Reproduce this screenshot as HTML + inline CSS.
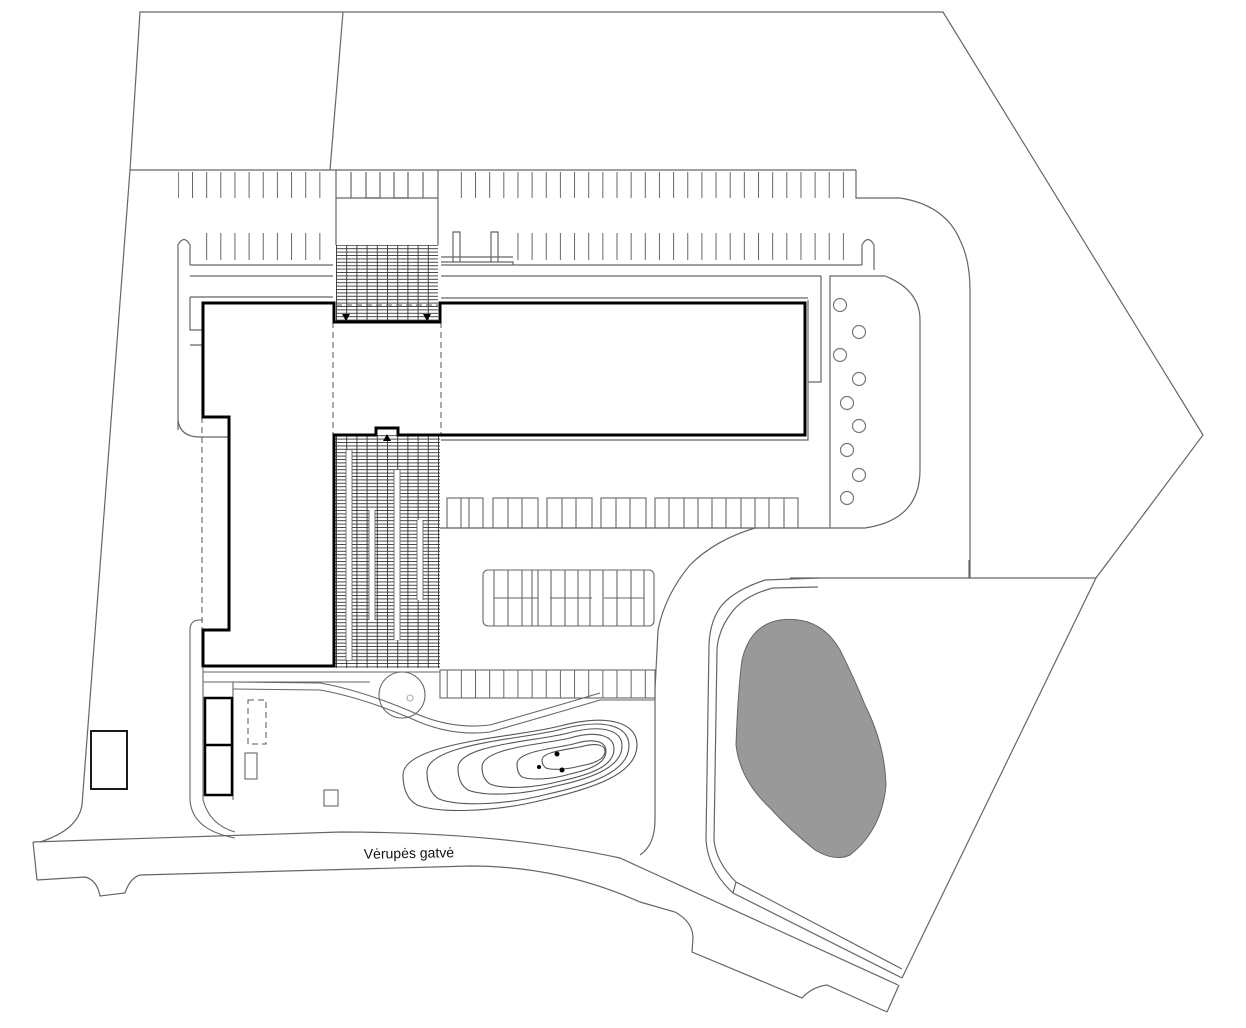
<!DOCTYPE html>
<html><head><meta charset="utf-8"><style>
html,body{margin:0;padding:0;background:#fff;}
svg{display:block}
text{font-family:"Liberation Sans",sans-serif;}
</style></head><body>
<svg width="1246" height="1028" viewBox="0 0 1246 1028" xmlns="http://www.w3.org/2000/svg">
<defs>
<pattern id="stallA" x="192" y="0" width="14.15" height="1028" patternUnits="userSpaceOnUse"><line x1="0.5" y1="0" x2="0.5" y2="1028" stroke="#666" stroke-width="1"/></pattern>
<pattern id="pave" x="336" y="0" width="10.2" height="3.4" patternUnits="userSpaceOnUse"><rect width="10.2" height="3.4" fill="#fff"/><line x1="0" y1="0.5" x2="10.2" y2="0.5" stroke="#333" stroke-width="0.9"/><line x1="0.5" y1="0" x2="0.5" y2="3.4" stroke="#333" stroke-width="0.9"/></pattern>
</defs>
<g fill="none" stroke="#666" stroke-width="1.2">
<polyline points="130,170 140,12 943,12 1203,435 1096,578 902,978"/>
<line x1="343" y1="12" x2="330" y2="170"/>
<line x1="130" y1="170" x2="856" y2="170"/>
<path d="M130,170 L82,805 Q78,830 40,842"/>
<!-- road -->
<path d="M33,842 L340,832 Q500,832 620,858 L898,985"/>
<path d="M37,880 L85,877 Q97,880 100,896 L125,893 Q130,878 140,875 L470,866 Q560,866 640,902 L675,912 Q693,922 693,938 L692,952 L802,998 Q812,987 827,985 L887,1012"/>
<line x1="33" y1="842" x2="37" y2="880"/>
<line x1="887" y1="1012" x2="899" y2="985"/>
<!-- pond parcel -->
<line x1="790" y1="578" x2="1096" y2="578"/>
<line x1="969" y1="578" x2="969" y2="560"/>
<path d="M818,578 L765,580 Q735,590 722,605 Q710,620 709,645 L706,840 Q708,870 733,893 L902,978"/>
<path d="M818,587 L773,588 Q745,595 732,612 Q718,630 717,650 L714,840 Q716,862 736,882 L902,969"/>
<path d="M733,893 L736,882"/>
<!-- right road -->
<path d="M856,170 L856,198 L900,198 Q945,205 960,240 Q970,260 970,290 L970,578"/>
<path d="M755,528 Q715,540 690,565 Q665,595 658,630 L655,690 L655,820 Q655,845 640,855"/>
<path d="M830,276 L885,276 Q920,290 920,320 L920,470 Q920,520 865,528 L830,528 Z"/>
<line x1="438" y1="528" x2="830" y2="528"/>
<rect x="178" y="172" width="155" height="26" fill="url(#stallA)" stroke="none"/>
<rect x="450" y="172" width="400" height="26" fill="url(#stallA)" stroke="none"/>
<rect x="200" y="233" width="133" height="27" fill="url(#stallA)" stroke="none"/>
<rect x="506" y="233" width="338" height="27" fill="url(#stallA)" stroke="none"/>
<line x1="190" y1="265" x2="333" y2="265"/>
<line x1="441" y1="265" x2="862" y2="265"/>
<line x1="190" y1="276" x2="333" y2="276"/>
<line x1="441" y1="276" x2="821" y2="276"/>
<line x1="190" y1="297" x2="333" y2="297"/>
<line x1="441" y1="298" x2="808" y2="298"/>
<path d="M821,276 L821,382 L808,382"/>
<path d="M808,300 L808,440 L441,440"/>
<path d="M178,430 L178,245 Q184,234 190,245 L190,265"/>
<path d="M862,265 L862,245 Q868,234 874,245 L874,270"/>
<path d="M178,420 Q180,437 200,437 L229,437"/>
<path d="M190,297 L190,330 L202,330"/>
<path d="M190,345 L202,345 L202,415"/>
<line x1="336" y1="170" x2="336" y2="245"/>
<line x1="438" y1="170" x2="438" y2="245"/>
<line x1="336" y1="198" x2="438" y2="198"/>
<polyline points="351,172 351,198"/><polyline points="366,172 366,198 380,198 380,172"/><polyline points="394,172 394,198 408,198 408,172"/><polyline points="423,172 423,198"/>
<path d="M453,262 L453,232 L460,232 L460,262 M491,262 L491,232 L498,232 L498,262 M441,257 L513,257 M441,262 L513,262 L513,265"/>
</g>
<rect x="336" y="245" width="102" height="77" fill="url(#pave)"/>
<rect x="334" y="435" width="106" height="233" fill="url(#pave)"/>
<g stroke="#fff" stroke-width="6">
<line x1="349" y1="450" x2="349" y2="660"/><line x1="372" y1="510" x2="372" y2="620"/><line x1="397" y1="470" x2="397" y2="640"/><line x1="420" y1="520" x2="420" y2="600"/>
</g>
<g stroke="#555" stroke-width="0.8"><line x1="346" y1="450" x2="346" y2="660"/><line x1="352" y1="450" x2="352" y2="660"/><line x1="369" y1="510" x2="369" y2="620"/><line x1="375" y1="510" x2="375" y2="620"/><line x1="394" y1="470" x2="394" y2="640"/><line x1="400" y1="470" x2="400" y2="640"/><line x1="417" y1="520" x2="417" y2="600"/><line x1="423" y1="520" x2="423" y2="600"/></g>
<g fill="none" stroke="#555" stroke-width="1" stroke-dasharray="6,4">
<line x1="333" y1="322" x2="333" y2="435"/><line x1="441" y1="322" x2="441" y2="435"/>
<line x1="336" y1="305" x2="438" y2="305"/>
<line x1="202" y1="417" x2="202" y2="630"/>
<rect x="248" y="700" width="18" height="44"/>
</g>
<path d="M203,303 L334,303 L334,322 L440,322 L440,303 L805,303 L805,435 L398,435 L398,428 L376,428 L376,435 L334,435 L334,666 L203,666 L203,630 L229,630 L229,417 L203,417 Z" fill="none" stroke="#000" stroke-width="3"/>
<polygon points="342,314 350,314 346,321" fill="#000"/><polygon points="423,314 431,314 427,321" fill="#000"/><polygon points="383,441 391,441 387,434" fill="#000"/>
<g fill="#fff" stroke="#777" stroke-width="1.2">
<circle cx="840" cy="305" r="6.5"/><circle cx="859" cy="332" r="6.5"/><circle cx="840" cy="355" r="6.5"/><circle cx="859" cy="379" r="6.5"/><circle cx="847" cy="403" r="6.5"/><circle cx="859" cy="426" r="6.5"/><circle cx="847" cy="450" r="6.5"/><circle cx="859" cy="475" r="6.5"/><circle cx="847" cy="498" r="6.5"/>
</g>
<g fill="none" stroke="#666" stroke-width="1.1">
<rect x="447" y="498" width="36" height="30"/><line x1="461" y1="498" x2="461" y2="528"/><line x1="469" y1="498" x2="469" y2="528"/>
<rect x="493" y="498" width="45" height="30"/><line x1="508" y1="498" x2="508" y2="528"/><line x1="522" y1="498" x2="522" y2="528"/>
<rect x="547" y="498" width="45" height="30"/><line x1="562" y1="498" x2="562" y2="528"/><line x1="576" y1="498" x2="576" y2="528"/>
<rect x="601" y="498" width="45" height="30"/><line x1="616" y1="498" x2="616" y2="528"/><line x1="630" y1="498" x2="630" y2="528"/>
<rect x="655" y="498" width="143" height="30"/>
<line x1="669" y1="498" x2="669" y2="528"/><line x1="684" y1="498" x2="684" y2="528"/><line x1="698" y1="498" x2="698" y2="528"/><line x1="712" y1="498" x2="712" y2="528"/><line x1="726" y1="498" x2="726" y2="528"/><line x1="741" y1="498" x2="741" y2="528"/><line x1="755" y1="498" x2="755" y2="528"/><line x1="769" y1="498" x2="769" y2="528"/><line x1="784" y1="498" x2="784" y2="528"/>
<rect x="483" y="570" width="171" height="56" rx="5"/>
<line x1="494" y1="570" x2="494" y2="626"/><line x1="508" y1="570" x2="508" y2="626"/><line x1="522" y1="570" x2="522" y2="626"/><line x1="532" y1="570" x2="532" y2="626"/><line x1="538" y1="570" x2="538" y2="626"/><line x1="551" y1="570" x2="551" y2="626"/><line x1="565" y1="570" x2="565" y2="626"/><line x1="578" y1="570" x2="578" y2="626"/><line x1="590" y1="570" x2="590" y2="626"/><line x1="603" y1="570" x2="603" y2="626"/><line x1="617" y1="570" x2="617" y2="626"/><line x1="631" y1="570" x2="631" y2="626"/><line x1="644" y1="570" x2="644" y2="626"/>
<line x1="494" y1="598" x2="538" y2="598"/><line x1="550" y1="598" x2="592" y2="598"/><line x1="604" y1="598" x2="644" y2="598"/>
</g>
<rect x="440" y="670" width="215" height="28" fill="url(#stallA)"/>
<g fill="none" stroke="#666" stroke-width="1.1">
<rect x="440" y="670" width="215" height="28"/>
<line x1="203" y1="672" x2="440" y2="672"/><line x1="203" y1="682" x2="370" y2="682"/>
<path d="M190,630 Q190,620 200,620 L203,620 M190,630 L190,800 Q192,830 235,838"/>
<path d="M203,668 L203,800 Q210,825 235,832"/>
<path d="M233,689 L320,690 Q360,697 410,718 Q450,737 490,732 Q560,712 600,700 L655,700"/>
<path d="M233,682 L320,683 Q360,690 410,711 Q450,730 490,725 Q560,705 600,693"/>
<line x1="233" y1="682" x2="233" y2="800"/>
<circle cx="402" cy="695" r="23"/>
<circle cx="410" cy="698" r="3" stroke="#aaa"/>
<path d="M205,698 L232,698 L232,795 L205,795 Z" stroke="#000" stroke-width="2.5"/>
<line x1="205" y1="745" x2="232" y2="745" stroke="#000" stroke-width="2.5"/>
<rect x="245" y="753" width="12" height="26"/>
<rect x="324" y="790" width="14" height="16"/>
<rect x="91" y="731" width="36" height="58" stroke="#000" stroke-width="1.8"/>
<g stroke="#555">
<path d="M403,775 C403,742 520,737 560,726 C609,713 637,723 637,745 C637,775 590,789 543,800 C490,813 438,813 417,805 C405,798 403,785 403,775Z"/>
<path d="M427,772 C427,743 528,739 562,729 C605,718 629,726 629,746 C629,772 589,785 548,794 C502,806 457,806 439,799 C429,793 427,782 427,772Z"/>
<path d="M458,768 C458,744 540,741 568,733 C602,724 622,730 622,746 C622,768 589,779 556,786 C519,796 483,796 468,790 C460,785 458,776 458,768Z"/>
<path d="M482,767 C482,747 548,744 570,738 C598,730 614,736 614,749 C614,767 588,775 561,781 C531,789 502,789 490,784 C484,780 482,774 482,767Z"/>
<path d="M517,764 C517,750 562,748 577,743 C595,738 606,742 606,751 C606,764 588,770 570,774 C550,780 530,780 522,777 C518,774 517,769 517,764Z"/>
<path d="M542,760 C542,751 573,749 584,746 C597,743 605,745 605,751 C605,760 592,764 580,766 C565,770 551,770 546,768 C543,766 542,763 542,760Z"/>
</g>
</g>
<circle cx="557" cy="754" r="2.5" fill="#000"/><circle cx="539" cy="767" r="2" fill="#000"/><circle cx="562" cy="770" r="2.5" fill="#000"/>
<path d="M780,620 Q820,615 840,650 Q855,680 865,705 Q885,745 886,785 Q882,830 850,855 Q835,862 815,850 Q790,830 770,808 Q740,780 736,745 Q738,690 742,660 Q750,625 780,620 Z" fill="#999" stroke="#666" stroke-width="1"/>
<text x="409" y="858" font-size="14" text-anchor="middle" fill="#111" transform="rotate(-1 409 858)">Vėrupės gatvė</text>
</svg>
</body></html>
